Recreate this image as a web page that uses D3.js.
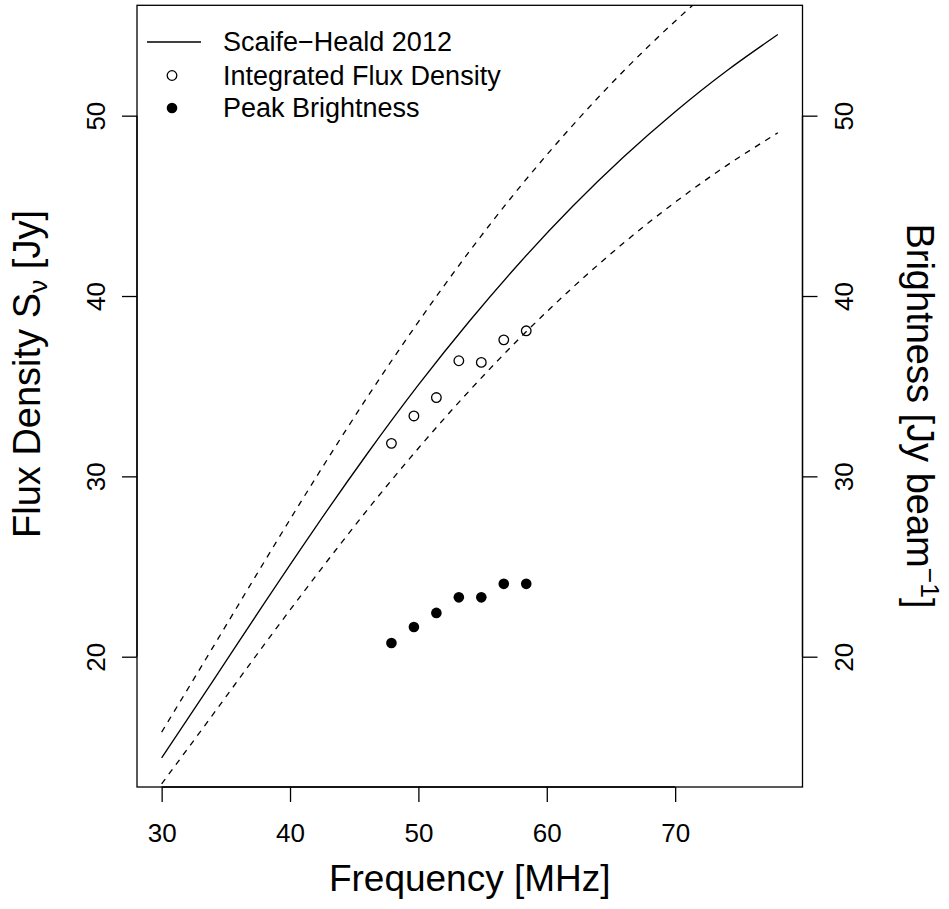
<!DOCTYPE html>
<html>
<head>
<meta charset="utf-8">
<script src="https://cdn.jsdelivr.net/npm/d3@7"></script>
<style>
  html, body { margin: 0; padding: 0; background: #fff; }
  svg { display: block; font-family: "Liberation Sans", Arial, Helvetica, sans-serif; }
</style>
</head>
<body>
<svg id="chart" width="949" height="909"></svg>
<script>
// ---- Data ----
const modelFreq = [30, 34, 38, 42, 46, 50, 54, 58, 62, 66, 70, 74, 78];
const modelFlux = [14.39, 18.66, 22.97, 27.19, 31.24, 35.07, 38.63, 41.93, 44.96, 47.72, 50.22, 52.48, 54.50];
const modelUpper = [15.82, 20.53, 25.27, 29.91, 34.37, 38.57, 42.50, 46.13, 49.45, 52.49, 55.24, 57.72, 59.95];
const modelLower = [12.95, 16.80, 20.68, 24.47, 28.12, 31.56, 34.77, 37.74, 40.46, 42.95, 45.20, 47.23, 49.05];

const obsFreq = [47.9, 49.65, 51.4, 53.15, 54.9, 56.65, 58.4];
const integratedFlux = [31.83, 33.35, 34.37, 36.41, 36.32, 37.57, 38.07];
const peakBrightness = [20.76, 21.65, 22.43, 23.29, 23.29, 24.04, 24.04];

const xTicks = [30, 40, 50, 60, 70];
const yTicks = [20, 30, 40, 50];
const legendLabels = ["Scaife\u2212Heald 2012", "Integrated Flux Density", "Peak Brightness"];

// ---- Layout ----
const svg = d3.select("#chart");
const plot = { left: 137, right: 802.5, top: 5.3, bottom: 787 };

const x = d3.scaleLinear().domain([28.08, 79.92]).range([plot.left, plot.right]);
const y = d3.scaleLinear().domain([12.775, 56.12]).range([plot.bottom, plot.top]);

const tickFont = 26, titleFont = 37, legendFont = 27;

// clip
svg.append("defs").append("clipPath").attr("id", "clip")
  .append("rect").attr("x", plot.left).attr("y", plot.top)
  .attr("width", plot.right - plot.left).attr("height", plot.bottom - plot.top);

const g = svg.append("g").attr("clip-path", "url(#clip)");

const line = (xs, ys) => d3.line().x((d, i) => x(xs[i])).y(d => y(d)).curve(d3.curveNatural)(ys);

g.append("path").attr("d", line(modelFreq, modelFlux))
  .attr("fill", "none").attr("stroke", "#000").attr("stroke-width", 1.3);
g.append("path").attr("d", line(modelFreq, modelUpper))
  .attr("fill", "none").attr("stroke", "#000").attr("stroke-width", 1.3).attr("stroke-dasharray", "6,6");
g.append("path").attr("d", line(modelFreq, modelLower))
  .attr("fill", "none").attr("stroke", "#000").attr("stroke-width", 1.3).attr("stroke-dasharray", "6,6");

g.selectAll("circle.open").data(integratedFlux).join("circle")
  .attr("class", "open")
  .attr("cx", (d, i) => x(obsFreq[i])).attr("cy", d => y(d)).attr("r", 4.8)
  .attr("fill", "none").attr("stroke", "#000").attr("stroke-width", 1.3);
g.selectAll("circle.filled").data(peakBrightness).join("circle")
  .attr("class", "filled")
  .attr("cx", (d, i) => x(obsFreq[i])).attr("cy", d => y(d)).attr("r", 5.3)
  .attr("fill", "#000");

// box
svg.append("rect").attr("x", plot.left).attr("y", plot.top)
  .attr("width", plot.right - plot.left).attr("height", plot.bottom - plot.top)
  .attr("fill", "none").attr("stroke", "#000").attr("stroke-width", 1.3);

// axes
const tickLen = 15;
const xAxis = d3.axisBottom(x).tickValues(xTicks).tickSize(tickLen).tickFormat(d3.format("d"));
const gx = svg.append("g").attr("transform", `translate(0,${plot.bottom})`).call(xAxis);
gx.select(".domain").attr("d", `M${x(30)},0H${x(70)}`).attr("stroke-width", 1.3);
gx.selectAll(".tick line").attr("stroke-width", 1.3);
gx.selectAll("text").attr("font-size", tickFont).attr("font-family", null).attr("fill", "#000")
  .attr("y", 54.5).attr("dy", null);

const yAxisL = d3.axisLeft(y).tickValues(yTicks).tickSize(tickLen).tickFormat(d3.format("d"));
const gyl = svg.append("g").attr("transform", `translate(${plot.left},0)`).call(yAxisL);
gyl.select(".domain").attr("d", `M0,${y(20)}V${y(50)}`).attr("stroke-width", 1.3);
gyl.selectAll(".tick line").attr("stroke-width", 1.3);
gyl.selectAll("text").attr("font-size", tickFont).attr("font-family", null).attr("fill", "#000")
  .attr("x", null).attr("dy", null).attr("text-anchor", "middle")
  .attr("transform", "translate(-32,0) rotate(-90)");

const yAxisR = d3.axisRight(y).tickValues(yTicks).tickSize(tickLen).tickFormat(d3.format("d"));
const gyr = svg.append("g").attr("transform", `translate(${plot.right},0)`).call(yAxisR);
gyr.select(".domain").attr("d", `M0,${y(20)}V${y(50)}`).attr("stroke-width", 1.3);
gyr.selectAll(".tick line").attr("stroke-width", 1.3);
gyr.selectAll("text").attr("font-size", tickFont).attr("font-family", null).attr("fill", "#000")
  .attr("x", null).attr("dy", null).attr("text-anchor", "middle")
  .attr("transform", "translate(50,0) rotate(-90)");

// axis titles
svg.append("text").attr("x", (plot.left + plot.right) / 2).attr("y", 891)
  .attr("text-anchor", "middle").attr("font-size", titleFont).text("Frequency [MHz]");

const lt = svg.append("text").attr("text-anchor", "middle").attr("font-size", titleFont + 1)
  .attr("transform", `translate(40,374) rotate(-90)`);
lt.append("tspan").text("Flux Density S");
lt.append("tspan").attr("font-size", (titleFont + 1) * 0.7).attr("dy", 7).text("\u03bd");
lt.append("tspan").attr("dy", -7).text(" [Jy]");

const rt = svg.append("text").attr("text-anchor", "middle").attr("font-size", titleFont + 1)
  .attr("transform", `translate(907,416) rotate(90)`);
rt.append("tspan").text("Brightness [Jy beam");
rt.append("tspan").attr("font-size", (titleFont + 1) * 0.7).attr("dy", -14).text("\u22121");
rt.append("tspan").attr("dy", 14).text("]");

// legend
const lg = svg.append("g");
const legY = [42, 75.5, 108];
lg.append("line").attr("x1", 147).attr("x2", 201).attr("y1", legY[0]).attr("y2", legY[0])
  .attr("stroke", "#000").attr("stroke-width", 1.3);
lg.append("circle").attr("cx", 172).attr("cy", legY[1]).attr("r", 4.8)
  .attr("fill", "none").attr("stroke", "#000").attr("stroke-width", 1.3);
lg.append("circle").attr("cx", 172).attr("cy", legY[2]).attr("r", 5.3).attr("fill", "#000");
lg.selectAll("text.leg").data(legendLabels).join("text").attr("class", "leg")
  .attr("x", 223).attr("y", (d, i) => legY[i]).attr("dy", "0.35em")
  .attr("font-size", legendFont).text(d => d);
</script>
</body>
</html>
